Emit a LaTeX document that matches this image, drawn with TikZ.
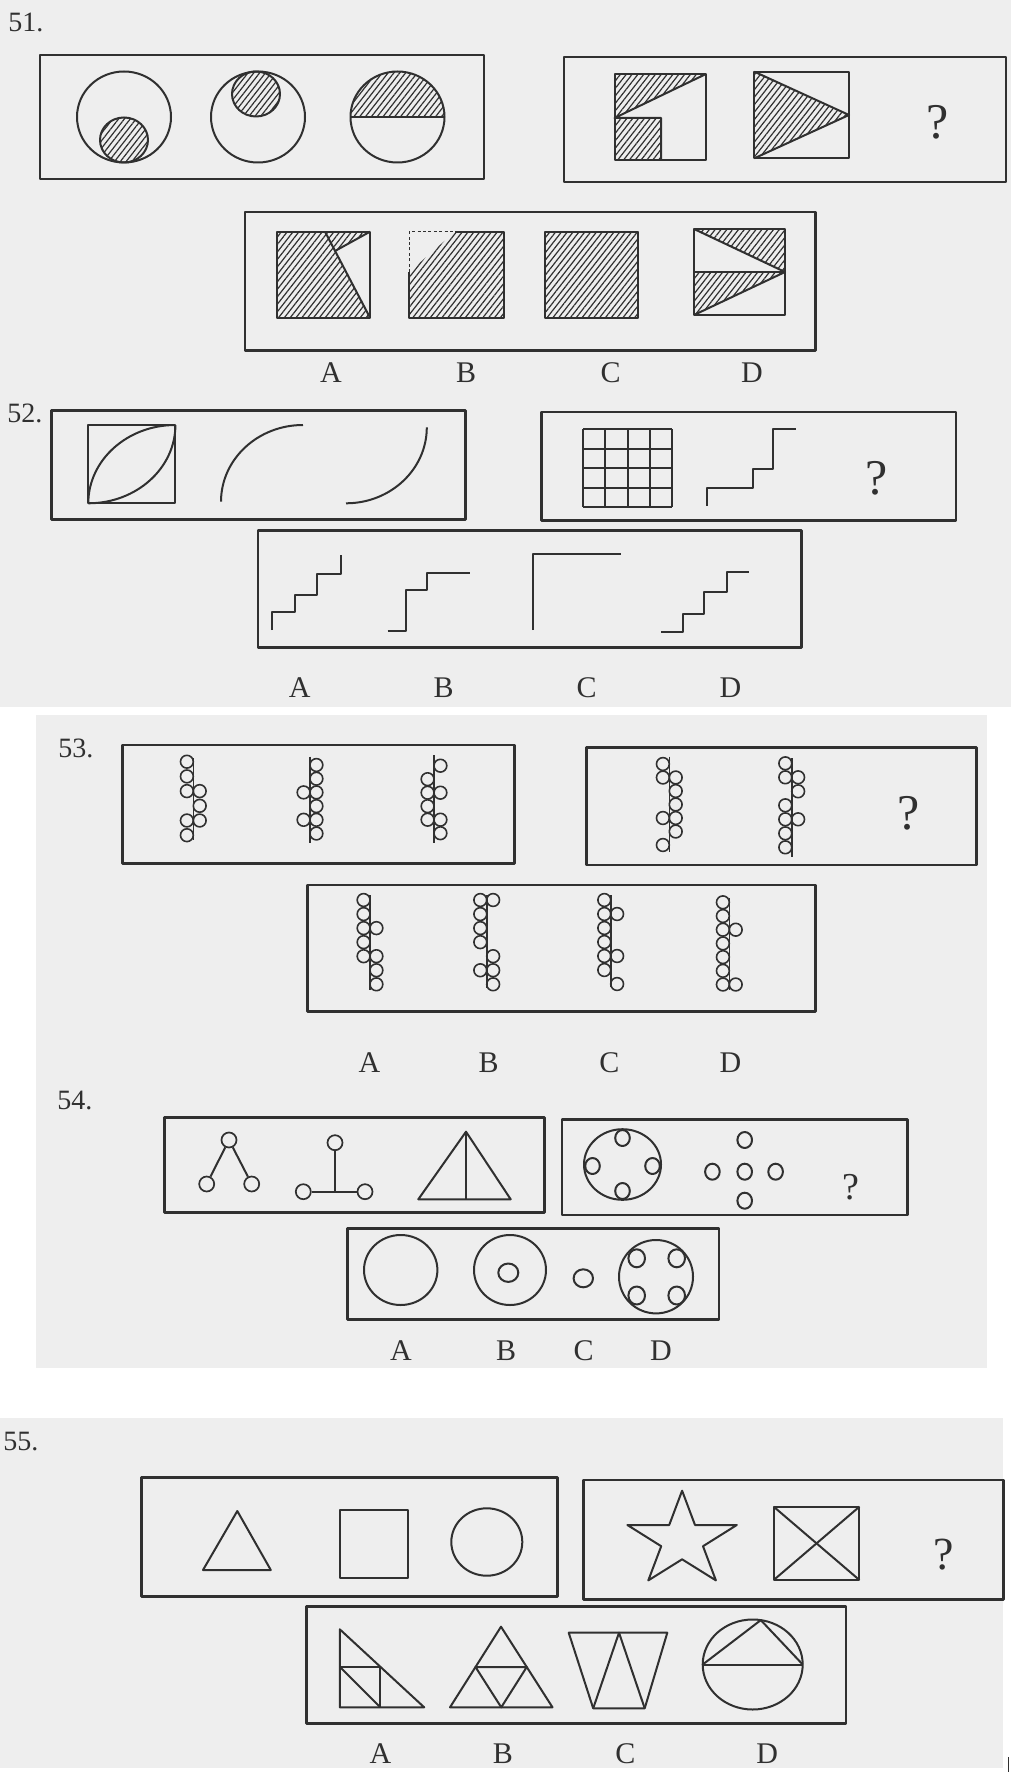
\documentclass[tikz,border=0pt]{standalone}
\usepackage{fontspec}
\setmainfont{Liberation Serif}
\usetikzlibrary{patterns.meta}
\definecolor{paper}{HTML}{EEEEEE}
\definecolor{ink}{HTML}{303030}
\newcommand\beadchain[7]{%
  \draw[bead] (#1,#2) -- (#1,#3);
  \foreach \k in {#6} \draw[bead] ({#1-6.4},{#4+\k*#5}) circle[radius=3.2pt];
  \foreach \k in {#7} \draw[bead] ({#1+6.4},{#4+\k*#5}) circle[radius=3.2pt];
}
\begin{document}
\begin{tikzpicture}[x=0.5pt,y=-0.5pt,line join=round,
  frame/.style={draw=ink,line width=1.45pt},
  fig/.style={draw=ink,line width=1.0pt},
  bead/.style={draw=ink,line width=0.8pt},
  hatch/.style={pattern={Lines[angle=52,distance=2.3pt,line width=0.6pt]},pattern color=ink},
  num/.style={font=\fontsize{14}{14}\selectfont,text=ink,inner sep=0pt,anchor=west},
  lab/.style={font=\fontsize{15}{15}\selectfont,text=ink,inner sep=0pt},
  qm/.style={font=\fontsize{25}{25}\selectfont,text=ink,inner sep=0pt},
  ring/.style={circle,draw=ink,line width=0.85pt,inner sep=0pt,minimum size=7.5pt}]
\useasboundingbox (0,0) rectangle (1011,1780);
\fill[white] (0,0) rectangle (1011,1780);
\fill[paper] (0,0) rectangle (1011,707);
\fill[paper] (35.5,715) rectangle (986.5,1368);
\fill[paper] (0,1418) rectangle (1003,1768);

% ================= 51 =================
\node[num] (n51) at (8,22) {51.};
\draw[frame] (40,55) rectangle (484,179);
\draw[frame] (564,57) rectangle (1006,182);
\draw[frame] (245,212) rectangle (815.6,350.7);
\draw[fig] (124,117) ellipse [x radius=23.5pt,y radius=22.75pt];
\draw[fig,hatch] (124,140) ellipse [x radius=12pt,y radius=11.25pt];
\draw[fig] (258,117) ellipse [x radius=23.5pt,y radius=22.75pt];
\draw[fig,hatch] (256,94) ellipse [x radius=12pt,y radius=11.25pt];
\path[hatch] (350.5,117) arc[start angle=180,end angle=0,x radius=23.5pt,y radius=22.75pt] -- cycle;
\draw[fig] (397.5,117) ellipse [x radius=23.5pt,y radius=22.75pt];
\draw[fig] (350.5,117) -- (444.5,117);
\fill[hatch] (614.5,74) -- (706,74) -- (614.5,118) -- cycle;
\fill[hatch] (614.5,118) rectangle (661,160);
\draw[fig] (614.5,74) rectangle (706,160);
\draw[fig] (706,74) -- (614.5,118) -- (661,118) -- (661,160);
\fill[hatch] (754.3,71.7) -- (849,115) -- (754.3,158.3) -- cycle;
\draw[fig] (754.3,71.7) rectangle (849,158.3);
\draw[fig] (754.3,71.7) -- (849,115) -- (754.3,158.3);
\node[qm] (q51) at (938,122) {?};
\fill[hatch] (277.3,231.7) -- (370,231.7) -- (335,251) -- (370,317.7) -- (277.3,317.7) -- cycle;
\draw[fig] (277.3,231.7) rectangle (370,317.7);
\draw[fig] (325,231.7) -- (370,317.7);
\draw[fig] (370,231.7) -- (335,251);
\fill[hatch] (455,231.7) -- (504.3,231.7) -- (504.3,317.7) -- (409.3,317.7) -- (409.3,272) -- cycle;
\draw[fig] (455,231.7) -- (504.3,231.7) -- (504.3,317.7) -- (409.3,317.7) -- (409.3,272);
\draw[draw=ink,line width=0.6pt,dash pattern=on 1.5pt off 1.2pt] (409.3,272) -- (409.3,231.7) -- (455,231.7);
\draw[fig,hatch] (545,231.7) rectangle (638.3,318.3);
\fill[hatch] (694,229) -- (785,229) -- (785,272) -- cycle;
\fill[hatch] (694,272) -- (785,272) -- (694,315) -- cycle;
\draw[fig] (694,229) rectangle (785,315);
\draw[fig] (694,229) -- (785,272) -- (694,315);
\draw[fig] (694,272) -- (785,272);
\node[lab] (a51) at (331,373) {A};
\node[lab] (b51) at (466,373) {B};
\node[lab] (c51) at (610.5,373) {C};
\node[lab] (d51) at (752,373) {D};

% ================= 52 =================
\node[num] (n52) at (7,413) {52.};
\draw[frame] (51.6,410.7) rectangle (465.5,519.3);
\draw[frame] (541.6,412) rectangle (956,520.7);
\draw[frame] (258,530.7) rectangle (801.4,647.3);
\draw[fig] (88.3,425) rectangle (175.4,503.3);
\draw[fig] (88.3,503.3) arc[start angle=180,end angle=90,x radius=43.55pt,y radius=39.15pt];
\draw[fig] (88.3,503.3) arc[start angle=270,end angle=360,x radius=43.55pt,y radius=39.15pt];
\draw[fig] (221,501.7) arc[start angle=180,end angle=90,x radius=41pt,y radius=38.35pt];
\draw[fig] (346,503.3) arc[start angle=270,end angle=360,x radius=40.4pt,y radius=38pt];
\foreach \i in {0,...,4} {
  \draw[fig] ({583.3+\i*22.1},429.3) -- ({583.3+\i*22.1},507.3);
  \draw[fig] (583.3,{429.3+\i*19.5}) -- (671.7,{429.3+\i*19.5});
}
\draw[fig] (706.7,506) -- (706.7,488.3) -- (752.7,488.3) -- (752.7,469) -- (773.3,469) -- (773.3,429.3) -- (796,429.3);
\node[qm] (q52) at (877,478) {?};
\draw[fig] (272.3,630) -- (272.3,611.7) -- (295,611.7) -- (295,595) -- (317.3,595) -- (317.3,574.3) -- (341,574.3) -- (341,555);
\draw[fig] (387.7,630.7) -- (405.7,630.7) -- (405.7,590) -- (426.7,590) -- (426.7,572.7) -- (470,572.7);
\draw[fig] (532.7,630) -- (532.7,554) -- (620.7,554);
\draw[fig] (661,632) -- (682.7,632) -- (682.7,614) -- (704,614) -- (704,592.3) -- (726.7,592.3) -- (726.7,571.7) -- (749.3,571.7);
\node[lab] (a52) at (299.8,688) {A};
\node[lab] (b52) at (443.6,688) {B};
\node[lab] (c52) at (586.7,688) {C};
\node[lab] (d52) at (730.5,688) {D};

% ================= 53 =================
\node[num] (n53) at (58,748) {53.};
\draw[frame] (122.5,745) rectangle (514.5,863.3);
\draw[frame] (586.7,747.7) rectangle (976.8,865);
\draw[frame] (307.5,885) rectangle (815.6,1011.7);
\beadchain{193.3}{758.3}{840}{761.7}{14.7}{0,1,2,4,5}{2,3,4}
\beadchain{310}{756.7}{843.3}{765}{13.7}{2,4}{0,1,2,3,4,5}
\beadchain{434}{755}{843.3}{765.7}{13.5}{1,2,3,4}{0,2,4,5}
\beadchain{669.3}{756.7}{851.7}{764}{13.5}{0,1,4,6}{1,2,3,4,5}
\beadchain{791.7}{758.3}{856.7}{763.3}{14}{0,1,3,4,5,6}{1,2,4}
\node[qm] (q53) at (909,813) {?};
\beadchain{370}{895}{990}{900}{14.05}{0,1,2,3,4}{2,4,5,6}
\beadchain{486.7}{895}{988.3}{900}{14.05}{0,1,2,3,5}{0,4,5,6}
\beadchain{610.7}{895}{986.7}{900}{14}{0,1,2,3,4,5}{1,4,6}
\beadchain{729.3}{898.3}{990}{902.3}{13.7}{0,1,2,3,4,5,6}{2,6}
\node[lab] (a53) at (369.4,1063) {A};
\node[lab] (b53) at (488.7,1063) {B};
\node[lab] (c53) at (609.3,1063) {C};
\node[lab] (d53) at (730.5,1063) {D};

% ================= 54 =================
\node[num] (n54) at (57,1100) {54.};
\draw[frame] (164.4,1117.3) rectangle (544.8,1212.7);
\draw[frame] (562,1119.3) rectangle (907.8,1215);
\draw[frame] (347.3,1228.3) rectangle (719,1319.3);
\node[ring] (t1) at (229,1140) {};
\node[ring] (l1) at (206.7,1184) {};
\node[ring] (r1) at (251.7,1184) {};
\draw[fig] (t1) -- (l1);
\draw[fig] (t1) -- (r1);
\node[ring] (t2) at (335,1142.7) {};
\node[ring] (l2) at (303.3,1191.7) {};
\node[ring] (r2) at (365,1191.7) {};
\coordinate (m2) at (335,1191.7);
\draw[fig] (l2) -- (r2);
\draw[fig] (t2) -- (m2);
\draw[fig] (466,1131.7) -- (510.7,1199.3) -- (418.3,1199.3) -- cycle;
\draw[fig] (466,1131.7) -- (466,1199.3);
\draw[fig] (622.5,1164.5) ellipse [x radius=19.25pt,y radius=17.65pt];
\foreach \p in {(622.5,1138),(622.5,1191),(592.5,1166),(652.5,1166),(712.4,1171.7),(744.7,1171.7),(775.6,1171.7),(744.7,1140),(744.7,1200.7)}
  \draw[fig] \p ellipse [x radius=3.65pt,y radius=4pt];
\node[qm,font=\fontsize{19}{19}\selectfont] (q54) at (851,1187) {?};
\draw[fig] (400.7,1270) ellipse [x radius=18.35pt,y radius=17.5pt];
\draw[fig] (510,1270) ellipse [x radius=18pt,y radius=17.5pt];
\draw[fig] (508.3,1272.7) ellipse [x radius=5pt,y radius=4.6pt];
\draw[fig] (583.3,1278.3) ellipse [x radius=4.85pt,y radius=4.5pt];
\draw[fig] (656,1276.7) ellipse [x radius=18.5pt,y radius=18.35pt];
\foreach \p in {(636.7,1258.3),(676.7,1258.3),(636.7,1295.5),(676.7,1295.5)}
  \draw[fig] \p ellipse [x radius=4.15pt,y radius=4.5pt];
\node[lab] (a54) at (401,1351) {A};
\node[lab] (b54) at (506,1351) {B};
\node[lab] (c54) at (583.5,1351) {C};
\node[lab] (d54) at (661,1351) {D};

% ================= 55 =================
\node[num] (n55) at (3,1442) {55.};
\draw[frame] (141.8,1477.7) rectangle (557.7,1596.7);
\draw[frame] (583.5,1480) rectangle (1003.9,1599.3);
\draw[frame] (306.3,1606.7) rectangle (846,1723.3);
\draw[fig] (237.3,1511) -- (270.8,1570) -- (203,1570) -- cycle;
\draw[fig] (339.8,1510) rectangle (408.1,1577.7);
\draw[fig] (486.8,1542) ellipse [x radius=17.75pt,y radius=16.85pt];
\draw[fig] (682.1,1490.7) -- (695,1525) -- (736.8,1525) -- (703,1546.2) -- (715.9,1580.4) -- (682.1,1559.3) -- (648.3,1580.4) -- (661.2,1546.2) -- (627.4,1525) -- (669.2,1525) -- cycle;
\draw[fig] (773.7,1506.7) rectangle (859.4,1580);
\draw[fig] (773.7,1506.7) -- (859.4,1580);
\draw[fig] (859.4,1506.7) -- (773.7,1580);
\node[qm,font=\fontsize{23}{23}\selectfont] (q55) at (944,1555) {?};
\draw[fig] (339.8,1629.3) -- (339.8,1707.3) -- (424.2,1707.3) -- cycle;
\draw[fig] (339.8,1666.7) -- (380.3,1666.7) -- (380.3,1707.3);
\draw[fig] (339.8,1666.7) -- (380.3,1707.3);
\draw[fig] (501,1626.7) -- (552.5,1707.3) -- (450,1707.3) -- cycle;
\draw[fig] (475.5,1667) -- (526.75,1667) -- (501.25,1707.3) -- cycle;
\draw[fig] (568.7,1632.7) -- (667.3,1632.7) -- (644.7,1708.3) -- (593.2,1708.3) -- cycle;
\draw[fig] (593.2,1708.3) -- (619,1632.7) -- (644.7,1708.3);
\draw[fig] (752.7,1664.5) ellipse [x radius=25pt,y radius=22.5pt];
\draw[fig] (702.7,1664.5) -- (802.7,1664.5);
\draw[fig] (702.7,1664.5) -- (760.8,1620.1) -- (802.7,1664.5);
\node[lab] (a55) at (380.4,1754) {A};
\node[lab] (b55) at (502.9,1754) {B};
\node[lab] (c55) at (625.4,1754) {C};
\node[lab] (d55) at (767.2,1754) {D};
\draw[ink,line width=0.8pt] (1008.5,1757) -- (1008.5,1772);
\end{tikzpicture}
\end{document}
